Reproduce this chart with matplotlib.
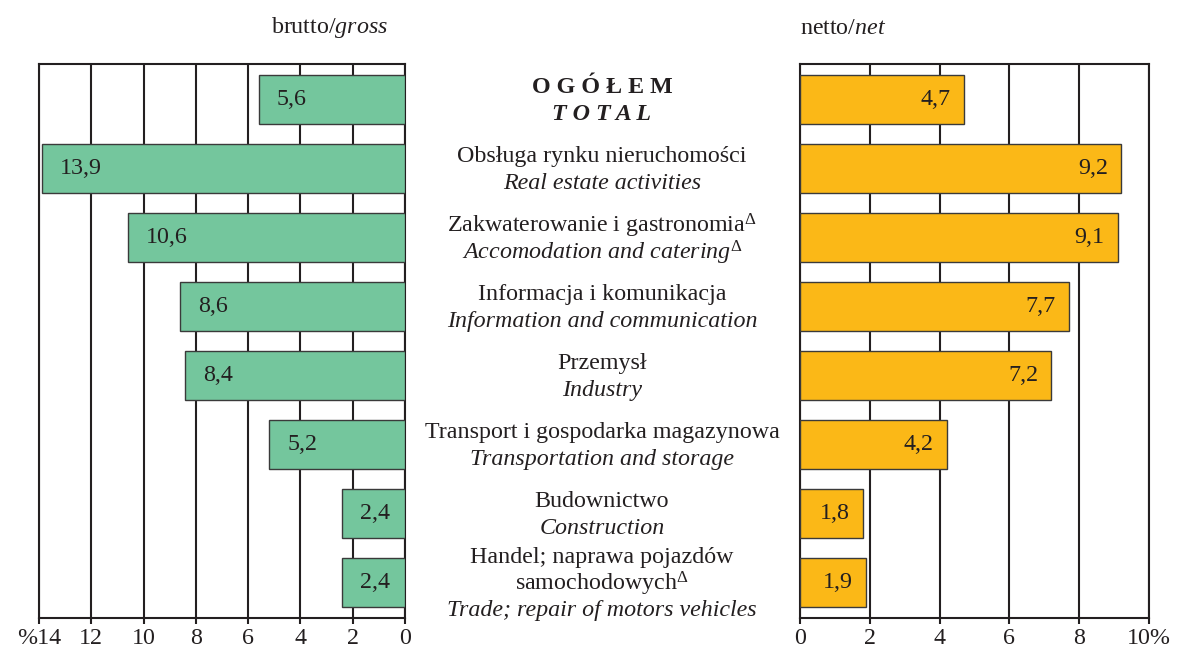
import matplotlib
matplotlib.use("Agg")
import matplotlib.pyplot as plt
import matplotlib.transforms as mtransforms

plt.rcParams['font.family'] = ['Liberation Serif', 'DejaVu Serif']
plt.rcParams['mathtext.fontset'] = 'custom'
plt.rcParams['mathtext.rm'] = 'Liberation Serif'
plt.rcParams['mathtext.it'] = 'Liberation Serif:italic'
plt.rcParams['mathtext.bf'] = 'Liberation Serif:bold'

# ---- data ----
pl_labels = [
    "O G Ó Ł E M",
    "Obsługa rynku nieruchomości",
    "Zakwaterowanie i gastronomia$^{\\Delta}$",
    "Informacja i komunikacja",
    "Przemysł",
    "Transport i gospodarka magazynowa",
    "Budownictwo",
    "Handel; naprawa pojazdów\nsamochodowych$^{\\Delta}$",
]
en_labels = [
    "T O T A L",
    "Real estate activities",
    "Accomodation and catering$^{\\Delta}$",
    "Information and communication",
    "Industry",
    "Transportation and storage",
    "Construction",
    "Trade; repair of motors vehicles",
]
gross = [5.6, 13.9, 10.6, 8.6, 8.4, 5.2, 2.4, 2.4]
net = [4.7, 9.2, 9.1, 7.7, 7.2, 4.2, 1.8, 1.9]
gross_ticks = [14, 12, 10, 8, 6, 4, 2, 0]
gross_ticklabels = ["%14", "12", "10", "8", "6", "4", "2", "0"]
net_ticks = [0, 2, 4, 6, 8, 10]
net_ticklabels = ["0", "2", "4", "6", "8", "10%"]

green = "#74C69D"
orange = "#FBB817"
dark = "#231F20"
FS = 17.3

fig = plt.figure(figsize=(11.87, 6.5), dpi=100)
bottom = 1 - 618 / 650
height = (618 - 64) / 650
axL = fig.add_axes([39 / 1187, bottom, 366 / 1187, height])
axR = fig.add_axes([800 / 1187, bottom, 349 / 1187, height])

ypos = list(range(len(gross)))
barh_h = 0.71

def style(ax, ticks, ticklabels, xlim):
    ax.set_xlim(*xlim)
    ax.set_ylim(len(gross) - 1 + 0.52, -0.51)
    ax.set_xticks(ticks)
    ax.set_xticklabels(ticklabels, fontsize=FS, color=dark)
    ax.set_yticks([])
    ax.set_axisbelow(True)
    ax.grid(axis='x', color=dark, linewidth=1.5)
    ax.tick_params(axis='x', direction='out', length=4, width=1.5, color=dark, pad=3)
    for s in ax.spines.values():
        s.set_color(dark)
        s.set_linewidth(1.5)

style(axL, gross_ticks, gross_ticklabels, (14, 0))
style(axR, net_ticks, net_ticklabels, (0, 10))

axL.barh(ypos, gross, height=barh_h, color=green, edgecolor="#3a3a3a", linewidth=1.0, zorder=3)
axR.barh(ypos, net, height=barh_h, color=orange, edgecolor="#3a3a3a", linewidth=1.0, zorder=3)

for y, v in zip(ypos, gross):
    axL.annotate(f"{v:.1f}".replace(".", ","), xy=(v, y), xytext=(13, 0),
                 textcoords="offset points", ha="left", va="center",
                 fontsize=FS, color=dark, zorder=4)
for y, v in zip(ypos, net):
    axR.annotate(f"{v:.1f}".replace(".", ","), xy=(v, y), xytext=(-9.5, 0),
                 textcoords="offset points", ha="right", va="center",
                 fontsize=FS, color=dark, zorder=4)

# category labels in the middle
cx = 602 / 1187
trans = mtransforms.blended_transform_factory(fig.transFigure, axL.transData)
spacing_pt = 19.2
for i, (pl, en) in enumerate(zip(pl_labels, en_labels)):
    lines = [(l, 'normal') for l in pl.split("\n")] + [(en, 'italic')]
    n = len(lines)
    for k, (txt, st) in enumerate(lines):
        off = ((n - 1) / 2 - k) * spacing_pt
        t = mtransforms.offset_copy(trans, fig=fig, x=0, y=off - 1.5, units='points')
        weight = 'bold' if i == 0 else 'normal'
        fig.text(cx, i, txt, transform=t, ha='center', va='center',
                 fontsize=FS, fontstyle=st, fontweight=weight, color=dark)

fig.text(330 / 1187, 1 - 28 / 650, "brutto/$\\mathit{gross}$", ha='center', va='center',
         fontsize=FS, color=dark)
fig.text(843 / 1187, 1 - 28 / 650, "netto/$\\mathit{net}$", ha='center', va='center',
         fontsize=FS, color=dark)

fig.savefig("out.png", dpi=100)
